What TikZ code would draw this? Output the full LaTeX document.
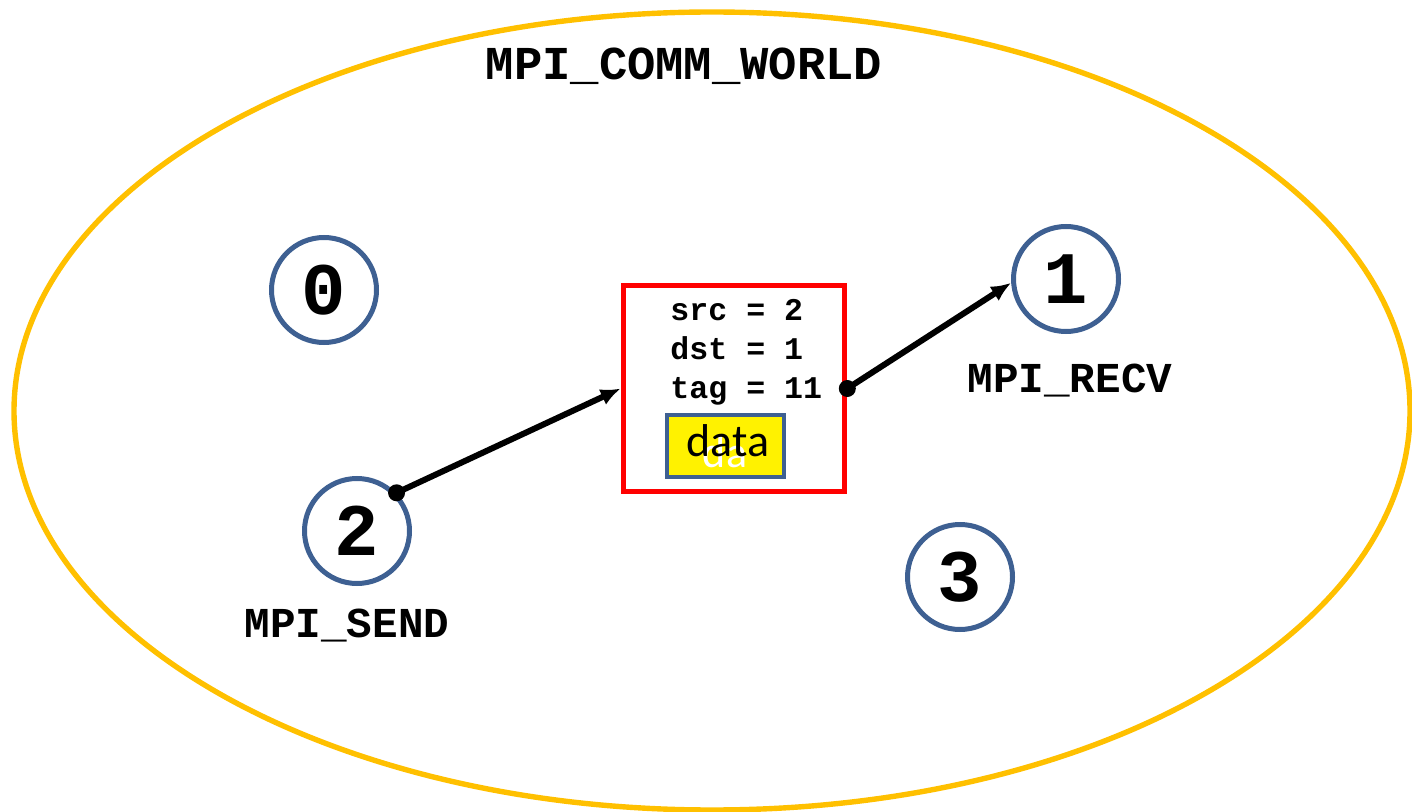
\documentclass[tikz,border=0pt]{standalone}
\usepackage{fontspec}
\setmainfont{Liberation Sans}
\newfontfamily\monob{Liberation Mono}[BoldFont={Liberation Mono Bold}]
\newfontfamily\calib{Carlito}
\usetikzlibrary{arrows.meta}
\definecolor{gold}{RGB}{255,192,0}
\definecolor{pblue}{RGB}{62,96,146}
\tikzset{
  proc/.style={circle, draw=pblue, line width=2.5pt, minimum size=52.5pt, inner sep=0pt,
    font=\monob\bfseries\fontsize{37}{40}\selectfont},
  lbl/.style={font=\monob\bfseries\fontsize{21.3}{24}\selectfont, inner sep=0pt},
  fld/.style={font=\monob\bfseries\fontsize{15.8}{18}\selectfont, inner sep=0pt, anchor=base west},
  conn/.style={line width=3pt, -{Latex[length=10pt,width=8.5pt]}},
}
\begin{document}
\begin{tikzpicture}[x=0.5pt,y=-0.5pt]
\useasboundingbox (0,0) rectangle (1412,812);
\clip (0,0) rectangle (1412,812);
\draw[gold, line width=2.7pt] (712,411) ellipse [x radius=349pt, y radius=199.5pt];
\node[lbl, font=\monob\bfseries\fontsize{23.6}{26}\selectfont] (world) at (684,66) {MPI\_COMM\_WORLD};
\node[proc] (c0) at (324,290) {0};
\node[proc] (c1) at (1066,279) {1};
\node[proc] (c2) at (357,531) {2};
\node[proc] (c3) at (960,577) {3};
\node[lbl] (send) at (347,626) {MPI\_SEND};
\node[lbl] (recv) at (1070,381) {MPI\_RECV};
\node[draw=red, line width=2.8pt, minimum width=110.5pt, minimum height=103pt, inner sep=0pt] (msg) at (734,388.5) {};
\node[fld] (src) at (670,321) {src = 2};
\node[fld] (dst) at (670,359.5) {dst = 1};
\node[fld] (tag) at (670,398) {tag = 11};
\node[draw=pblue, fill=yellow, line width=2.4pt, minimum width=58.5pt, minimum height=31pt, inner sep=0pt] (dbox) at (725.5,446) {};
\node[white, font=\calib\fontsize{22}{24}\selectfont, inner sep=0pt] (ghost) at (725,452) {da};
\node[font=\calib\fontsize{23}{26}\selectfont, inner sep=0pt] (data) at (728,441) {data};
\draw[conn] (c2.44) -- (msg.west);
\fill (c2.44) circle (4.25pt);
\draw[conn] (msg.east) -- (c1.184);
\fill (msg.east) circle (4.25pt);
\end{tikzpicture}
\end{document}
